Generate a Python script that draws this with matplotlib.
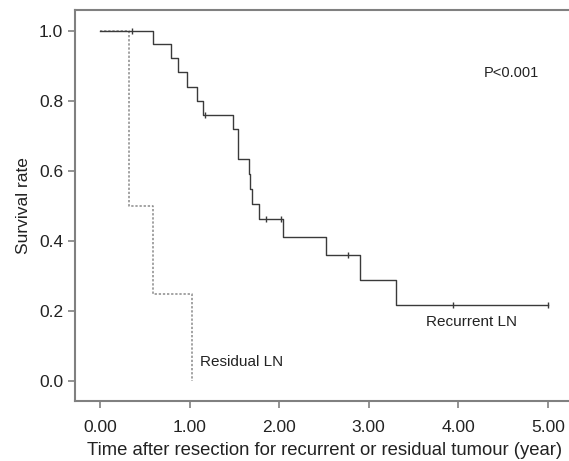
import numpy as np
import matplotlib.pyplot as plt

plt.rcParams['font.family'] = ['Liberation Sans', 'DejaVu Sans']

# Recurrent LN (solid) - step times (year) and survival after each step
rec_t = [0.0, 0.59, 0.79, 0.865, 0.97, 1.08, 1.15, 1.484, 1.544, 1.659, 1.67, 1.697, 1.78, 2.04, 2.528, 2.905, 3.31, 5.0]
rec_s = [1.0, 0.962, 0.921, 0.881, 0.84, 0.80, 0.759, 0.719, 0.634, 0.59, 0.547, 0.505, 0.463, 0.411, 0.359, 0.288, 0.216, 0.216]
rec_cens_t = [0.354, 1.175, 1.857, 2.02, 2.767, 3.94, 5.0]
rec_cens_s = [1.0, 0.759, 0.463, 0.463, 0.359, 0.216, 0.216]

# Residual LN (dotted)
res_t = [0.0, 0.328, 0.59, 1.025, 1.025]
res_s = [1.0, 0.5, 0.248, 0.0, 0.0]

xticks = [0, 1, 2, 3, 4, 5]
yticks = [0.0, 0.2, 0.4, 0.6, 0.8, 1.0]

fig = plt.figure(figsize=(5.69, 4.61), dpi=100)
ax = fig.add_axes([75 / 569, 60 / 461, 1 - 75 / 569 + 0.01, 390.5 / 461])

ax.step(res_t, res_s, where='post', color='#8a8a8a', lw=1.1, linestyle=(0, (1.5, 1.2)))
ax.step(rec_t, rec_s, where='post', color='#3a3a3a', lw=1.0)
ax.plot(rec_cens_t, rec_cens_s, linestyle='none', marker='|', color='#3a3a3a',
        markersize=5, markeredgewidth=1.0)

ax.set_xlim(-0.2796, 5.30)
ax.set_ylim(-0.058, 1.0577)
ax.set_xticks(xticks)
ax.set_xticklabels([f"{v:.2f}" for v in xticks])
ax.set_yticks(yticks)
ax.set_yticklabels([f"{v:.1f}" for v in yticks])

for side in ['left', 'bottom', 'top']:
    ax.spines[side].set_color('#808080')
    ax.spines[side].set_linewidth(1.5)
ax.spines['right'].set_visible(False)
ax.tick_params(colors='#808080', labelcolor='#222222', labelsize=12.5, length=5, width=1.2)
ax.tick_params(axis='x', pad=9)

ax.set_xlabel("Time after resection for recurrent or residual tumour (year)",
              fontsize=13.3, color='#222222', labelpad=5)
ax.set_ylabel("Survival rate", fontsize=12.5, color='#222222', labelpad=6)

ax.text(4.59, 0.878, "P<0.001", fontsize=10.5, color='#222222', ha='center', va='center')
ax.text(4.15, 0.169, "Recurrent LN", fontsize=11, color='#222222', ha='center', va='center')
ax.text(1.577, 0.054, "Residual LN", fontsize=11, color='#222222', ha='center', va='center')

fig.savefig("out.png", dpi=100)
